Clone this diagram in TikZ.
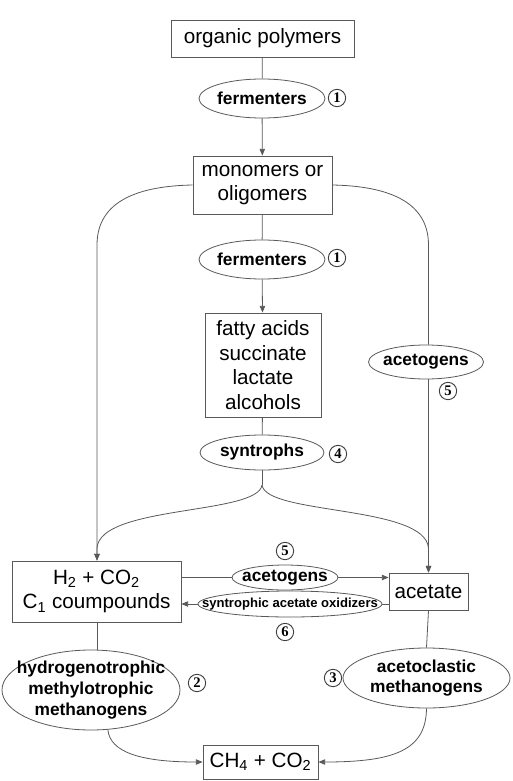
\documentclass[tikz,border=0pt]{standalone}
\usepackage{fontspec}
\setmainfont{Liberation Sans}
\newfontfamily\numfont{Liberation Serif}
\usetikzlibrary{shapes.geometric,arrows.meta}

\begin{document}
\begin{tikzpicture}[x=0.75pt,y=-0.75pt,
  line/.style={draw=black!65,line width=0.6pt},
  arr/.style={line,-{Triangle[length=5pt,width=4pt]}},
  box/.style={line,rectangle,inner sep=0pt,align=center,fill=white,
    font=\fontsize{15.5}{18.5}\selectfont},
  org/.style={line,ellipse,inner sep=0pt,fill=white},
  orgtext/.style={inner sep=0pt,align=center,
    font=\fontsize{13}{15.5}\selectfont\bfseries},
  num/.style={draw=black!75,line width=0.7pt,circle,inner sep=0pt,
    minimum size=13pt,font=\numfont\bfseries\fontsize{11}{12}\selectfont}]
\useasboundingbox (0,0) rectangle (513,781);

% substrates and products
\node[box,minimum width=137.25pt,minimum height=27.75pt] (poly) at (262.5,38.5) {organic polymers};
\node[box,minimum width=104.25pt,minimum height=43.5pt] (mono) at (262.5,185) {monomers or\\oligomers};
\node[box,minimum width=87pt,minimum height=78pt] (fatty) at (263,365) {fatty acids\\succinate\\lactate\\alcohols};
\node[box,minimum width=126.75pt,minimum height=45.75pt] (htwo) at (96.5,591.5) {H\textsubscript{2} + CO\textsubscript{2}\\C\textsubscript{1} coumpounds};
\node[box,minimum width=59.25pt,minimum height=27.75pt] (acetate) at (428.5,591.5) {acetate};
\node[box,minimum width=86.25pt,minimum height=25.5pt] (methane) at (260.5,762) {CH\textsubscript{4} + CO\textsubscript{2}};

% organisms: fixed-size ellipses with their names set on top
\node[org,minimum width=94.5pt,minimum height=29.25pt] (fermA) at (262,98.5) {};
\node[orgtext] (fermAt) at (fermA) {fermenters};
\node[org,minimum width=94.5pt,minimum height=29.25pt] (fermB) at (262,259.5) {};
\node[orgtext] (fermBt) at (fermB) {fermenters};
\node[org,minimum width=93pt,minimum height=26.25pt] (synt) at (262,452.5) {};
\node[orgtext] (syntt) at (synt) {syntrophs};
\node[org,minimum width=86.25pt,minimum height=25.5pt] (acetR) at (426,362) {};
\node[orgtext] (acetRt) at (acetR) {acetogens};
\node[org,minimum width=79.5pt,minimum height=18.75pt] (acetM) at (285,577.5) {};
\node[orgtext] (acetMt) at (acetM) {acetogens};
\node[org,minimum width=138pt,minimum height=19.5pt] (oxid) at (290,604) {};
\node[orgtext,font=\fontsize{9.8}{12}\selectfont\bfseries] (oxidt) at (oxid) {syntrophic acetate oxidizers};
\node[org,minimum width=133.5pt,minimum height=60pt] (hydro) at (91,690) {};
\node[orgtext] (hydrot) at (hydro) {hydrogenotrophic\\methylotrophic\\methanogens};
\node[org,minimum width=125.25pt,minimum height=45pt] (aclast) at (426.5,678) {};
\node[orgtext] (aclastt) at (aclast) {acetoclastic\\methanogens};

% step numbers
\node[num] (n1a) at (337,98) {1};
\node[num] (n1b) at (337,258) {1};
\node[num] (n4) at (338,454) {4};
\node[num] (n5a) at (448,391) {5};
\node[num] (n5b) at (285,551) {5};
\node[num] (n6) at (285,632) {6};
\node[num] (n2) at (197,683) {2};
\node[num] (n3) at (333,678) {3};

% main chain
\draw[line] (poly) -- (fermA);
\draw[arr] (fermA) -- (mono);
\draw[line] (mono) -- (fermB);
\draw[arr] (fermB) -- (fatty);
\draw[line] (fatty) -- (synt);

% syntroph split
\coordinate (split) at (262,485);
\draw[line] (synt.south) -- (split);
\draw[arr] (split) .. controls (258,515) and (100,505) .. (97,548) -- (htwo.north -| 97,0);
\draw[arr] (split) .. controls (266,515) and (425,505) .. (428.5,548) -- (acetate.north);

% side branches from monomers
\draw[arr] (mono.west) .. controls (140,186) and (97,200) .. (97,245) -- (htwo.north -| 97,0);
\draw[line] (mono.east) .. controls (385,186) and (428.5,200) .. (428.5,245) -- (acetR.north -| 428.5,0);
\draw[arr] (acetR.south -| 428.5,0) -- (acetate.north);

% exchange between hydrogen and acetate
\draw[line] (htwo.east |- acetM) -- (acetM.west);
\draw[arr] (acetM.east) -- (acetate.west |- acetM);
\draw[line] (acetate.west |- oxid) -- (oxid.east);
\draw[arr] (oxid.west) -- (htwo.east |- oxid);

% methanogenesis
\draw[line] (htwo.south -| 97,0) -- (hydro.north -| 97,0);
\draw[line] (acetate.south) -- (aclast.north);
\draw[arr] (hydro.-67) .. controls (110,752) and (140,762) .. (methane.west);
\draw[arr] (aclast.south) .. controls (426,750) and (395,762) .. (methane.east);
\end{tikzpicture}
\end{document}
